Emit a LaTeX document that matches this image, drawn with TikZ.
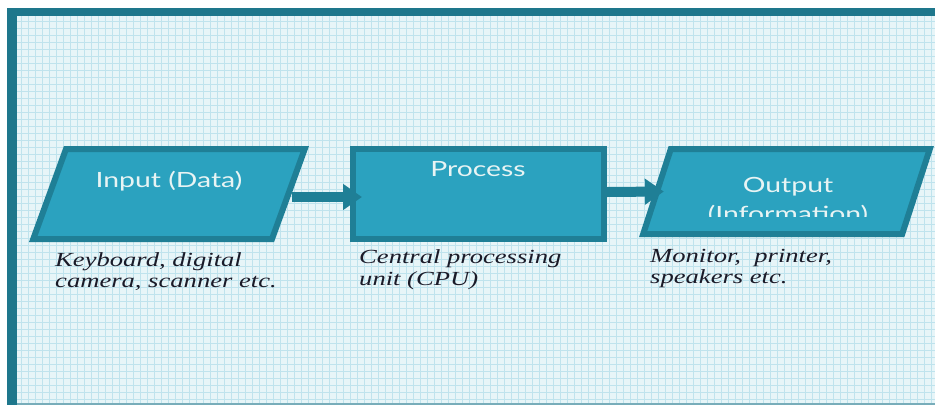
\documentclass[tikz,border=0pt]{standalone}
\usepackage{fontspec}
\usetikzlibrary{shapes.geometric,arrows.meta,positioning}
\newfontfamily\boxfont[FakeStretch=1.35]{Lato}
\newfontfamily\notefont[FakeStretch=1.33]{Liberation Serif}
\definecolor{frameteal}{HTML}{1E778C}
\definecolor{boxfill}{HTML}{2BA2BF}
\definecolor{boxline}{HTML}{1F7F96}
\definecolor{gridbg}{HTML}{E7F5F8}
\definecolor{gridline}{HTML}{BFE3ED}
\definecolor{notetext}{HTML}{1A1A28}
\definecolor{boxtext}{HTML}{E8F4F4}

\begin{document}
\begin{tikzpicture}[x=1pt, y=-1pt,
	io box/.style={trapezium, draw=boxline, fill=boxfill, line width=6pt},
	proc box/.style={rectangle, draw=boxline, fill=boxfill, line width=6pt,
		inner sep=1pt, minimum width=251pt, minimum height=90pt},
	box text/.style={text=boxtext, inner sep=0pt, anchor=base,
		font=\boxfont\fontsize{21}{29}\selectfont},
	note/.style={text=notetext, inner sep=0pt, anchor=north west, align=left,
		font=\notefont\itshape\fontsize{20}{21.5}\selectfont},
	flow/.style={draw=boxline, line width=10pt, -{Triangle[length=19pt,width=25pt]}}]

	\useasboundingbox (0,0) rectangle (935,405);

	% background and frame
	\fill[white] (0,0) rectangle (935,405);
	\fill[gridbg] (17,16) rectangle (935,403);
	\draw[gridline, line width=0.8pt, step=7pt] (17,16) grid (935,403);
	\fill[frameteal] (7,8) rectangle (935,16);
	\fill[frameteal] (7,8) rectangle (17,405);
	\fill[frameteal!60] (17,403) rectangle (935,405);

	% boxes
	\node[io box, trapezium left angle=70, trapezium right angle=110,
		inner xsep=103pt, inner ysep=45pt] (in) at (169,194) {};
	\node[proc box] (proc) at (478.5,194) {};
	\node[io box, trapezium left angle=72, trapezium right angle=108,
		inner xsep=115.7pt, inner ysep=42.5pt] (out) at (786.5,191.5) {};

	% arrows
	\draw[flow] ([yshift=-3pt]in.east) -- ([xshift=12pt,yshift=-3pt]proc.west);
	\draw[flow] ([yshift=2pt]proc.east) -- ([xshift=10pt]out.west);

	% box texts
	\node[box text] (intxt) at (169,187) {Input (Data)};
	\node[box text] (proctxt) at (478,176) {Process};
	\node[box text] (outtxt) at (788,192) {Output};
	\begin{scope}
		\clip (640,146) rectangle (935,216);
		\node[box text] (infotxt) at (788,221) {(Information)};
	\end{scope}

	% notes under the boxes
	\node[note] (innote) at (55,252) {Keyboard, digital\\camera, scanner etc.};
	\node[note] (procnote) at (359,249.5) {Central processing\\unit (CPU)};
	\node[note] (outnote) at (650,249) {Monitor,~ printer,\\speakers etc.};

\end{tikzpicture}
\end{document}
